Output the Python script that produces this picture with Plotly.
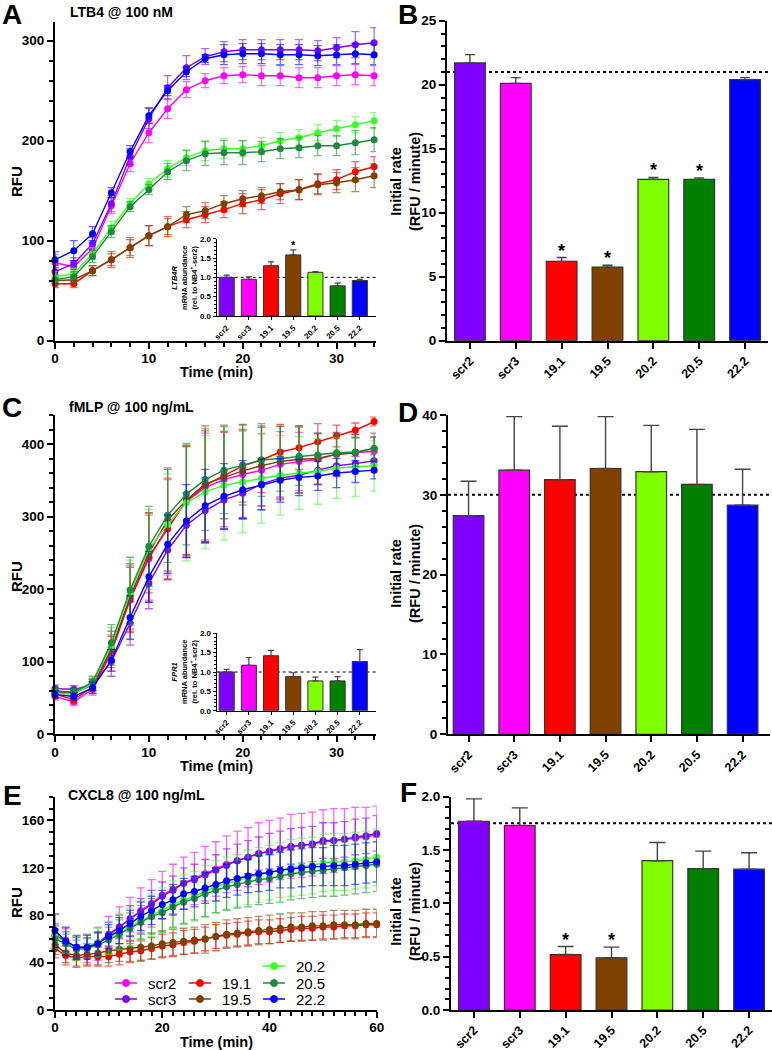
import plotly.graph_objects as go

FONT = "Arial, 'Liberation Sans', sans-serif"
W, H = 772, 1050

# ---------------- data ----------------
SERIES = ["scr2", "scr3", "19.1", "19.5", "20.2", "20.5", "22.2"]
LINE_COLORS = ["#FF00FF", "#8000FF", "#FF0000", "#804000", "#3CFF2A", "#1E8B3C", "#0000FF"]
CATS = ["scr2", "scr3", "19.1", "19.5", "20.2", "20.5", "22.2"]
BAR_COLORS = ["#8000FF", "#FF00FF", "#FF0000", "#804000", "#80FF00", "#008000", "#0000FF"]

# Panel A: LTB4 @ 100 nM
T_A = [0, 2, 4, 6, 8, 10, 12, 14, 16, 18, 20, 22, 24, 26, 28, 30, 32, 34]
A_scr2 = [78, 74, 92, 135, 177, 208, 232, 251, 260, 265, 266, 265, 265, 263, 263, 265, 266, 265]
A_scr3 = [69, 77, 97, 137, 184, 222, 253, 273, 284, 289, 291, 291, 291, 291, 290, 293, 296, 298]
A_191 = [57, 57, 70, 81, 93, 105, 114, 121, 126, 131, 137, 141, 147, 151, 157, 161, 169, 174]
A_195 = [60, 61, 70, 81, 93, 105, 114, 126, 130, 137, 142, 145, 149, 151, 156, 158, 161, 165]
A_202 = [64, 67, 87, 113, 137, 157, 172, 183, 190, 192, 192, 195, 200, 203, 208, 212, 216, 220]
A_205 = [61, 64, 84, 109, 134, 151, 169, 180, 187, 188, 188, 189, 192, 193, 195, 195, 198, 201]
A_222 = [81, 90, 107, 148, 189, 225, 250, 269, 282, 286, 287, 287, 286, 286, 285, 286, 287, 286]
A_scr2_err = [8, 6, 6, 8, 8, 10, 10, 8, 7, 8, 8, 10, 10, 10, 10, 10, 10, 10]
A_scr3_err = [6, 6, 6, 8, 8, 10, 12, 12, 8, 10, 10, 10, 10, 10, 10, 10, 13, 15]
A_191_err = [4, 4, 5, 6, 8, 10, 10, 8, 8, 8, 10, 10, 10, 10, 10, 10, 10, 10]
A_195_err = [4, 4, 5, 8, 10, 10, 8, 8, 8, 8, 8, 8, 8, 10, 10, 10, 12, 12]
A_202_err = [5, 5, 6, 6, 5, 5, 8, 8, 10, 10, 8, 8, 8, 8, 8, 8, 8, 8]
A_205_err = [5, 5, 6, 6, 5, 5, 8, 10, 12, 12, 12, 10, 10, 10, 10, 10, 12, 12]
A_222_err = [8, 10, 7, 5, 6, 8, 5, 5, 4, 10, 10, 10, 10, 10, 10, 10, 10, 10]

# Panel C: fMLP @ 100 ng/mL
T_C = [0, 2, 4, 6, 8, 10, 12, 14, 16, 18, 20, 22, 24, 26, 28, 30, 32, 34]
C_scr2 = [52, 45, 62, 112, 187, 242, 286, 321, 340, 351, 358, 364, 372, 376, 379, 386, 388, 390]
C_scr3 = [63, 62, 68, 100, 153, 208, 254, 288, 308, 323, 332, 345, 353, 357, 364, 370, 373, 377]
C_191 = [55, 48, 65, 115, 185, 245, 283, 322, 343, 357, 370, 378, 389, 395, 403, 411, 419, 431]
C_195 = [58, 57, 68, 117, 190, 250, 295, 323, 345, 354, 363, 370, 376, 379, 380, 386, 388, 394]
C_202 = [57, 55, 70, 122, 195, 255, 289, 319, 334, 343, 348, 353, 357, 360, 362, 367, 368, 370]
C_205 = [60, 58, 72, 126, 199, 259, 302, 331, 351, 364, 371, 378, 380, 383, 385, 388, 389, 394]
C_222 = [55, 52, 64, 102, 161, 217, 262, 294, 315, 328, 337, 344, 350, 354, 356, 360, 362, 364]
C_scr2_err = [5, 5, 8, 25, 45, 60, 65, 75, 75, 65, 60, 50, 45, 40, 35, 30, 25, 20]
C_scr3_err = [5, 5, 8, 20, 30, 35, 40, 45, 45, 40, 35, 35, 30, 25, 20, 15, 10, 8]
C_191_err = [5, 5, 8, 20, 45, 60, 70, 75, 75, 60, 50, 45, 35, 30, 25, 15, 10, 6]
C_195_err = [5, 5, 8, 25, 45, 55, 70, 75, 80, 72, 64, 55, 51, 46, 35, 29, 25, 21]
C_202_err = [5, 5, 8, 25, 45, 55, 70, 80, 78, 75, 70, 62, 55, 50, 45, 42, 40, 35]
C_205_err = [5, 5, 8, 25, 45, 55, 65, 70, 70, 60, 55, 50, 45, 40, 30, 25, 20, 15]
C_222_err = [5, 5, 8, 15, 30, 35, 40, 50, 50, 45, 40, 35, 30, 25, 20, 20, 15, 12]

# Panel E: CXCL8 @ 100 ng/mL
T_E = [0, 2, 4, 6, 8, 10, 12, 14, 16, 18, 20, 22, 24, 26, 28, 30, 32, 34, 36, 38, 40,
       42, 44, 46, 48, 50, 52, 54, 56, 58, 60]
E_scr2 = [63, 59, 52, 52, 56, 63, 70, 77, 84, 90, 97, 102, 107, 111, 115, 119, 123, 126, 129, 132, 134,
          136, 138, 139, 140, 142, 143, 144, 145, 146, 148]
E_scr3 = [63, 58, 53, 53, 56, 64, 70, 77, 83, 89, 96, 101, 107, 110, 114, 118, 122, 126, 129, 132, 134,
          136, 138, 139, 140, 143, 143, 144, 146, 147, 149]
E_191 = [52, 46, 44, 45, 45, 45, 47, 49, 50, 52, 54, 55, 57, 58, 60, 62, 63, 64, 65, 66, 66,
         67, 68, 69, 69, 70, 70, 71, 71, 72, 72]
E_195 = [55, 48, 46, 47, 48, 50, 51, 52, 53, 54, 56, 57, 58, 59, 60, 62, 64, 65, 66, 67, 68,
         69, 70, 70, 71, 71, 72, 72, 72, 73, 73]
E_202 = [62, 58, 52, 54, 57, 61, 66, 70, 75, 80, 84, 89, 93, 96, 100, 104, 107, 109, 112, 114, 116,
         118, 120, 121, 122, 124, 125, 125, 126, 127, 129]
E_205 = [60, 56, 51, 52, 55, 59, 64, 69, 74, 79, 82, 87, 91, 94, 98, 101, 104, 106, 108, 110, 111,
         113, 115, 116, 117, 118, 119, 120, 121, 122, 123]
E_222 = [67, 58, 53, 53, 56, 62, 67, 73, 79, 84, 89, 93, 98, 100, 103, 106, 109, 111, 113, 115, 116,
         118, 119, 120, 121, 121, 122, 122, 123, 124, 125]
E_scr2_err = [10, 10, 10, 12, 14, 16, 17, 18, 19, 20, 20, 21, 22, 22, 23, 23, 24, 25, 25, 26, 26,
              26, 27, 27, 27, 27, 27, 26, 26, 25, 24]
E_scr3_err = [8, 8, 8, 8, 9, 10, 10, 11, 11, 12, 12, 12, 13, 13, 13, 13, 14, 14, 14, 14, 15,
              15, 15, 15, 15, 15, 15, 15, 15, 15, 15]
E_191_err = [8, 8, 8, 8, 8, 8, 9, 9, 9, 9, 10, 10, 10, 10, 10, 10, 10, 10, 10, 10, 10,
             10, 10, 10, 10, 10, 10, 10, 10, 10, 10]
E_195_err = [8, 8, 9, 9, 10, 10, 10, 11, 11, 11, 11, 11, 11, 11, 12, 12, 12, 12, 12, 12, 12,
             12, 12, 12, 12, 12, 12, 12, 12, 12, 12]
E_202_err = [10, 10, 10, 10, 12, 14, 15, 16, 17, 18, 19, 20, 21, 21, 22, 22, 22, 22, 23, 23, 23,
             23, 24, 24, 24, 24, 24, 24, 24, 24, 24]
E_205_err = [8, 8, 8, 8, 10, 11, 12, 13, 14, 15, 16, 17, 18, 18, 19, 19, 20, 20, 21, 21, 21,
             22, 22, 22, 22, 22, 23, 23, 23, 23, 23]
E_222_err = [14, 12, 10, 10, 10, 10, 11, 11, 12, 12, 12, 13, 13, 13, 13, 14, 14, 14, 14, 15, 15,
             15, 16, 16, 16, 16, 17, 17, 17, 17, 17]

# Bar panels
B_VAL = [21.7, 20.1, 6.2, 5.75, 12.6, 12.6, 20.4]
B_ERR = [0.65, 0.45, 0.3, 0.15, 0.15, 0.12, 0.15]
B_SIG = [False, False, True, True, True, True, False]
B_REF = 21.0
D_VAL = [27.4, 33.1, 31.9, 33.3, 32.9, 31.3, 28.7]
D_ERR = [4.3, 6.7, 6.7, 6.5, 5.8, 6.9, 4.5]
D_SIG = [False] * 7
D_REF = 30.0
F_VAL = [1.77, 1.73, 0.52, 0.49, 1.40, 1.325, 1.32]
F_ERR = [0.21, 0.165, 0.075, 0.10, 0.17, 0.165, 0.155]
F_SIG = [False, False, True, True, False, False, False]
F_REF = 1.75
# Insets (mRNA abundance)
IA_VAL = [1.0, 0.95, 1.30, 1.58, 1.13, 0.78, 0.92]
IA_ERR = [0.06, 0.06, 0.10, 0.13, 0.02, 0.07, 0.03]
IA_SIG = [False, False, False, True, False, False, False]
IC_VAL = [1.0, 1.175, 1.42, 0.88, 0.77, 0.77, 1.27]
IC_ERR = [0.07, 0.2, 0.14, 0.1, 0.1, 0.11, 0.31]
IC_SIG = [False] * 7
INSET_REF = 1.0

A_VALS = [A_scr2, A_scr3, A_191, A_195, A_202, A_205, A_222]
A_ERRS = [A_scr2_err, A_scr3_err, A_191_err, A_195_err, A_202_err, A_205_err, A_222_err]
C_VALS = [C_scr2, C_scr3, C_191, C_195, C_202, C_205, C_222]
C_ERRS = [C_scr2_err, C_scr3_err, C_191_err, C_195_err, C_202_err, C_205_err, C_222_err]
E_VALS = [E_scr2, E_scr3, E_191, E_195, E_202, E_205, E_222]
E_ERRS = [E_scr2_err, E_scr3_err, E_191_err, E_195_err, E_202_err, E_205_err, E_222_err]
# legend layout for panel E (column, row) per series
LEG_COL = [0, 0, 1, 1, 2, 2, 2]
LEG_ROW = [1, 2, 1, 2, 0, 1, 2]


# ---------------- helpers ----------------
def xd(a, b):
    return [a / W, b / W]


def yd(top, bottom):
    return [1 - bottom / H, 1 - top / H]


def rgba(hexc, a):
    h = hexc.lstrip("#")
    r, g, b = int(h[0:2], 16), int(h[2:4], 16), int(h[4:6], 16)
    return f"rgba({r},{g},{b},{a})"


def lin_axis(domain, rng, dtick, minor_dtick, anchor, size=13.5, ticklen=6, lw=2,
             tickformat=None, standoff=0):
    d = dict(domain=domain, range=rng, anchor=anchor, showline=True, linecolor="black",
             linewidth=lw, ticks="outside", ticklen=ticklen, tickwidth=lw, tickcolor="black",
             dtick=dtick, tick0=0, showgrid=False, zeroline=False, fixedrange=True,
             automargin=False, ticklabelstandoff=standoff,
             tickfont=dict(family=FONT, size=size, color="black", weight="bold"),
             minor=dict(ticks="outside", ticklen=max(2, ticklen - 2), tickwidth=max(1, lw - 0.5),
                        tickcolor="black", dtick=minor_dtick, tick0=0, showgrid=False))
    if tickformat:
        d["tickformat"] = tickformat
    return d


def cat_axis(domain, rng, anchor, size=12.5, ticklen=6, lw=2):
    return dict(domain=domain, range=rng, anchor=anchor, type="category",
                categoryorder="array", categoryarray=CATS, showline=True,
                linecolor="black", linewidth=lw, ticks="outside", ticklen=ticklen,
                tickwidth=lw, tickcolor="black", tickangle=-45, showgrid=False,
                zeroline=False, fixedrange=True, automargin=False,
                tickfont=dict(family=FONT, size=size, color="black", weight="bold"))


fig = go.Figure()


def add_lines(xa, ya, T, vals, errs):
    for i, name in enumerate(SERIES):
        c = LINE_COLORS[i]
        fig.add_trace(go.Scatter(
            x=T, y=vals[i], mode="lines+markers", name=name, xaxis=xa, yaxis=ya,
            line=dict(color=c, width=1.4), marker=dict(color=c, size=7),
            error_y=dict(type="data", array=errs[i], color=rgba(c, 0.6), thickness=1.3, width=4),
            cliponaxis=False, showlegend=False))


def add_bars(xa, ya, vals, errs, sig, cap, width, lw, star_size, star_shift):
    fig.add_trace(go.Bar(
        x=CATS, y=vals, xaxis=xa, yaxis=ya, width=width, showlegend=False,
        marker=dict(color=BAR_COLORS, line=dict(color="#333333", width=lw)),
        error_y=dict(type="data", array=errs, arrayminus=[0] * len(errs), symmetric=False,
                     color="#444444", thickness=lw + 0.2, width=cap)))
    for i, (v, e, s) in enumerate(zip(vals, errs, sig)):
        if s:
            fig.add_annotation(x=i, y=v + e, xref=xa, yref=ya, text="*", showarrow=False,
                               yanchor="middle", yshift=star_shift,
                               font=dict(family=FONT, size=star_size, color="black", weight="bold"))


# ---------------- traces ----------------
add_lines("x", "y", T_A, A_VALS, A_ERRS)
add_lines("x3", "y3", T_C, C_VALS, C_ERRS)
add_lines("x5", "y5", T_E, E_VALS, E_ERRS)
add_bars("x2", "y2", B_VAL, B_ERR, B_SIG, 5, 0.67, 1.2, 18, 7)
add_bars("x4", "y4", D_VAL, D_ERR, D_SIG, 8, 0.67, 1.2, 18, 7)
add_bars("x6", "y6", F_VAL, F_ERR, F_SIG, 8, 0.67, 1.2, 18, 7)
add_bars("x7", "y7", IA_VAL, IA_ERR, IA_SIG, 3, 0.68, 1.0, 11, 5)
add_bars("x8", "y8", IC_VAL, IC_ERR, IC_SIG, 3, 0.68, 1.0, 11, 5)

# ---------------- axes ----------------
layout_axes = dict(
    xaxis=lin_axis(xd(55, 376), [0, 34.2], 10, 2, "y", standoff=-2),
    yaxis=lin_axis(yd(22, 340.7), [0, 318.7], 100, 20, "x"),
    xaxis2=cat_axis(xd(447, 768), [-0.5, 6.5], "y2"),
    yaxis2=lin_axis(yd(20.7, 340.7), [0, 25], 5, 1, "x2"),
    xaxis3=lin_axis(xd(55, 376), [0, 34.2], 10, 2, "y3", standoff=-2),
    yaxis3=lin_axis(yd(415, 734.3), [0, 440], 100, 20, "x3"),
    xaxis4=cat_axis(xd(448, 770), [-0.45, 6.6], "y4"),
    yaxis4=lin_axis(yd(415, 734.3), [0, 40], 10, 2, "x4"),
    xaxis5=lin_axis(xd(55, 376.7), [0, 60], 20, 2, "y5", standoff=-2),
    yaxis5=lin_axis(yd(796.7, 1010), [0, 180], 40, 10, "x5"),
    xaxis6=cat_axis(xd(451, 772), [-0.5, 6.5], "y6"),
    yaxis6=lin_axis(yd(796.7, 1010), [0, 2.0], 0.5, 0.1, "x6", tickformat=".1f"),
    xaxis7=cat_axis(xd(216.7, 376), [-0.45, 6.73], "y7", size=8, ticklen=3, lw=1.2),
    yaxis7=lin_axis(yd(238.7, 316), [0, 2.0], 0.5, 0.1, "x7", size=8, ticklen=3, lw=1.2,
                    tickformat=".1f"),
    xaxis8=cat_axis(xd(216.7, 376), [-0.45, 6.73], "y8", size=8, ticklen=3, lw=1.2),
    yaxis8=lin_axis(yd(633.3, 710.7), [0, 2.0], 0.5, 0.1, "x8", size=8, ticklen=3, lw=1.2,
                    tickformat=".1f"),
)

# reference dotted lines
shapes = []
for xa, ya, ref, w in [("x2", "y2", B_REF, 2), ("x4", "y4", D_REF, 2), ("x6", "y6", F_REF, 2),
                       ("x7", "y7", INSET_REF, 1), ("x8", "y8", INSET_REF, 1)]:
    shapes.append(dict(type="line", xref=f"{xa} domain", yref=ya, x0=0, x1=1, y0=ref, y1=ref,
                       line=dict(color="black", width=w, dash="dot"), layer="below"))


# ---------------- text ----------------
def ann(x, y, text, size, angle=0, xanchor="center", weight="bold"):
    fig.add_annotation(x=x / W, y=1 - y / H, xref="paper", yref="paper", text=text,
                       showarrow=False, textangle=angle, xanchor=xanchor, yanchor="middle",
                       font=dict(family=FONT, size=size, color="black", weight=weight))


# panel letters
for letter, x, y in [("A", 12, 15), ("B", 408, 15), ("C", 12, 407), ("D", 408, 412),
                     ("E", 12, 795), ("F", 408, 792)]:
    ann(x, y, letter, 28)

# titles
ann(68, 12, "LTB4 @ 100 nM", 14, xanchor="left")
ann(67, 407, "fMLP @ 100 ng/mL", 14, xanchor="left")
ann(66, 795, "CXCL8 @ 100 ng/mL", 14, xanchor="left")

# axis titles
for yc in (182, 577, 903):
    ann(16, yc, "RFU", 15, angle=-90)
for yc in (372, 766, 1042):
    ann(216, yc, "Time (min)", 14.5)
for yc in (182, 574, 912):
    ann(405, yc, "Initial rate<br>(RFU / minute)", 14.5, angle=-90)
ann(184, 278, "<i>LTB4R</i><br>mRNA abundance<br>(rel. to NB4<sup>+</sup>-scr2)", 7.5, angle=-90)
ann(184, 672, "<i>FPR1</i><br>mRNA abundance<br>(rel. to NB4<sup>+</sup>-scr2)", 7.5, angle=-90)

# legend for panel E (keys drawn as shapes, labels as text)
LEG_X = [115, 189, 263]
LEG_Y = [966, 983, 999]
for i, name in enumerate(SERIES):
    x0 = LEG_X[LEG_COL[i]]
    yc = LEG_Y[LEG_ROW[i]]
    c = LINE_COLORS[i]
    shapes.append(dict(type="line", xref="paper", yref="paper", x0=x0 / W, x1=(x0 + 22) / W,
                       y0=1 - yc / H, y1=1 - yc / H, line=dict(color=c, width=1.5)))
    shapes.append(dict(type="circle", xref="paper", yref="paper",
                       x0=(x0 + 11 - 3.5) / W, x1=(x0 + 11 + 3.5) / W,
                       y0=1 - (yc + 3.5) / H, y1=1 - (yc - 3.5) / H,
                       fillcolor=c, line=dict(color=c, width=1)))
    ann(x0 + 31, yc, name, 15, xanchor="left", weight="normal")

fig.update_layout(
    width=W, height=H, margin=dict(l=0, r=0, t=0, b=0, autoexpand=False),
    paper_bgcolor="white", plot_bgcolor="rgba(0,0,0,0)",
    font=dict(family=FONT, color="black"),
    shapes=shapes, showlegend=False,
    **layout_axes,
)

fig.write_html("out.html", config={"displayModeBar": False},
               post_script="document.body.style.margin='0px';")
